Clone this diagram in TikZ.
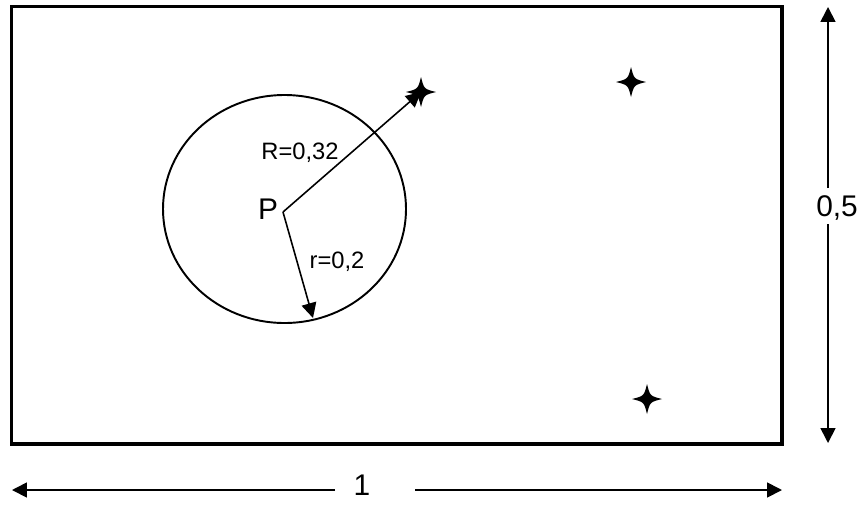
\documentclass[tikz,border=0pt]{standalone}
\usepackage{fontspec}
\setmainfont{Liberation Sans}
\usetikzlibrary{arrows.meta}

\begin{document}
\begin{tikzpicture}[
  x=0.02cm, y=-0.02cm,
  >={Triangle[length=8.5pt, width=8.5pt]},
  frame/.style={line width=2.2pt},
  ring/.style={line width=1.1pt},
  edge/.style={->, line width=0.9pt},
  dim/.style={->, line width=1pt},
  lbl/.style={font=\fontsize{13.5}{16}\selectfont, inner sep=1pt, anchor=base},
  big/.style={font=\fontsize{17}{20}\selectfont, inner sep=1pt, anchor=base},
  spark/.pic={\fill (15,0) .. controls (3,-3) .. (0,-15) .. controls (-3,-3) .. (-15,0)
    .. controls (-3,3) .. (0,15) .. controls (3,3) .. cycle;}
]
  \useasboundingbox (0,0) rectangle (861,504);
  \draw[frame] (11.5,6.5) rectangle (782,444);

  \coordinate (P) at (283,212);
  \draw[ring] (284.5,209) ellipse [x radius=121.5, y radius=114];

  % points
  \coordinate (s1) at (421,92);
  \coordinate (s2) at (631,82);
  \coordinate (s3) at (647,399);
  \pic at (s1) {spark};
  \pic at (s2) {spark};
  \pic at (s3) {spark};

  \coordinate (rtip) at (313,318);
  \draw[edge] (P) -- (s1);
  \draw[edge] (P) -- (rtip);

  \node[big] (pl) at (268,219) {P};
  \node[lbl] (Rl) at (300,159) {R=0,32};
  \node[lbl] (rl) at (337,268) {r=0,2};

  % dimensions
  \node[big] (hl) at (837,216) {0,5};
  \coordinate (htop) at (828,7);
  \coordinate (hbot) at (828,443);
  \draw[dim] (828,188) -- (htop);
  \draw[dim] (828,224) -- (hbot);

  \node[big] (wl) at (362,495) {1};
  \coordinate (wleft) at (12,490);
  \coordinate (wright) at (782,490);
  \draw[dim] (335,490) -- (wleft);
  \draw[dim] (415,490) -- (wright);
\end{tikzpicture}
\end{document}
